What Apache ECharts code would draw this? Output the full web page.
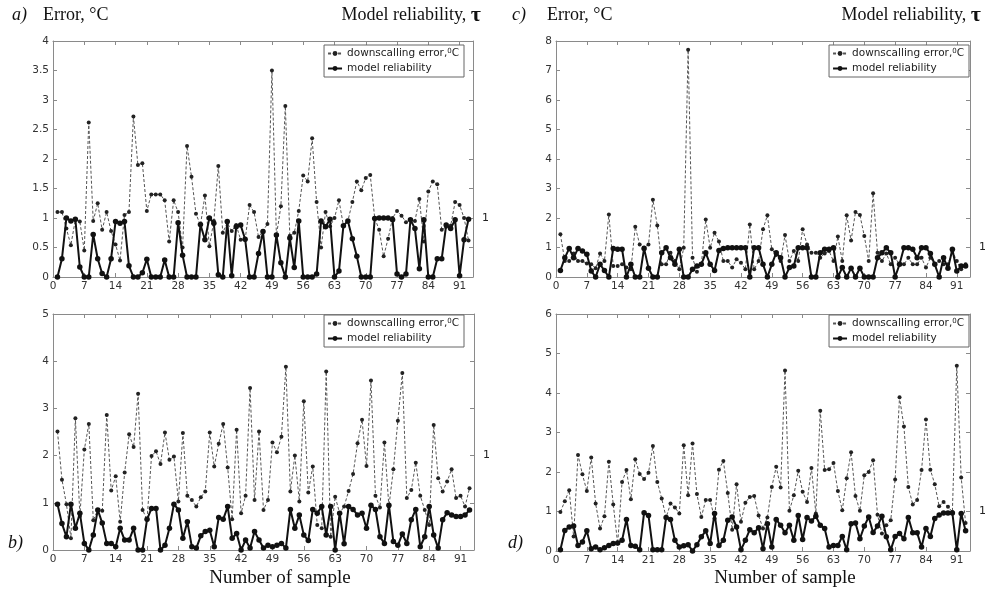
<!DOCTYPE html>
<html>
<head>
<meta charset="utf-8">
<script src="https://cdn.jsdelivr.net/npm/echarts@6/dist/echarts.min.js"></script>
<style>html,body{margin:0;padding:0;background:#fff;}#chart{width:989px;height:594px;}</style>
</head>
<body>
<div id="chart"></div>
<script>
// ---- data ----
const samples = Array.from({length: 93}, (_, i) => i + 1);   // sample numbers
const xTicks = [0, 7, 14, 21, 28, 35, 42, 49, 56, 63, 70, 77, 84, 91];

const yTicksA = [0, 0.5, 1, 1.5, 2, 2.5, 3, 3.5, 4];
const yTicksB = [0, 1, 2, 3, 4, 5];
const yTicksC = [0, 1, 2, 3, 4, 5, 6, 7, 8];
const yTicksD = [0, 1, 2, 3, 4, 5, 6];

const errA = [1.1,1.1,0.82,0.54,0.97,0.94,0.45,2.62,0.95,1.25,
  0.8,1.1,0.78,0.55,0.28,1.05,1.1,2.72,1.9,1.93,
  1.12,1.4,1.4,1.4,1.3,0.6,1.3,1.1,0.5,2.22,
  1.7,1.07,0.88,1.38,0.52,0.95,1.88,0.75,0.92,0.78,
  0.88,0.63,0.63,1.22,1.1,0.68,0.78,
  0.9,3.5,0.7,1.2,2.9,0.7,0.75,1.12,1.72,1.62,
  2.35,1.27,0.5,1.1,0.86,1.0,1.3,0.87,0.95,1.27,
  1.62,1.47,1.68,1.73,1.0,0.8,0.35,0.65,1.0,1.12,
  1.04,0.93,0.97,0.95,1.32,0.6,1.45,1.62,1.57,0.8,
  0.85,0.87,1.27,1.22,1.0,0.62];
const relA = [0,0.31,1.0,0.95,0.98,0.17,0,0,0.72,0.31,
  0.06,0,0.31,0.94,0.91,0.94,0.19,0,0,0.07,
  0.3,0,0,0,0.29,0,0,0.92,0.37,0,
  0,0,0.89,0.63,1.0,0.91,0.04,0,0.94,0.02,
  0.85,0.88,0.64,0,0,0.4,0.77,
  0,0,0.71,0.24,0,0.66,0.16,0.95,0,0,
  0,0.05,0.95,0.85,0.98,0,0.1,0.87,0.95,0.65,
  0.35,0,0,0,0.99,1.0,1.0,1.0,0.97,0.05,
  0,0.05,0.97,0.82,0.14,0.97,0,0,0.31,0.31,
  0.88,0.82,0.97,0.02,0.63,0.98];

const errB = [2.51,1.49,0.97,0.25,2.79,0.72,2.13,2.67,0.63,0.85,
  0.83,2.86,1.26,1.56,0.6,1.64,2.45,2.18,3.31,0.85,
  0.64,1.99,2.09,1.82,2.49,1.91,1.98,1.03,2.48,1.15,
  1.06,0.92,1.12,1.24,2.49,1.77,2.25,2.67,1.75,0.65,
  2.55,0.78,1.15,3.43,1.06,2.51,0.85,
  1.06,2.28,2.07,2.4,3.88,1.24,2.0,1.03,3.15,1.22,
  1.77,0.53,0.46,3.78,0.28,1.13,0.78,0.92,1.25,1.61,
  2.26,2.76,1.78,3.59,1.15,0.9,2.28,0.92,1.71,2.74,
  3.75,1.1,1.27,1.85,1.15,0.85,0.53,2.65,1.52,1.24,
  1.45,1.71,1.1,1.15,0.92,1.31];
const relB = [0.97,0.56,0.28,0.97,0.46,0.78,0.14,0,0.32,0.85,
  0.57,0.14,0.14,0.07,0.46,0.21,0.21,0.46,0,0,
  0.65,0.88,0.88,0,0.1,0.46,0.97,0.85,0.25,0.6,
  0.07,0.04,0.3,0.39,0.42,0.07,0.69,0.65,0.92,0.25,
  0.35,0,0.21,0.04,0.39,0.21,0.04,
  0.1,0.07,0.1,0.14,0.04,0.86,0.46,0.74,0.32,0.2,
  0.86,0.78,0.92,0.32,0.92,0,0.78,0.13,0.92,0.86,
  0.74,0.78,0.46,0.95,0.86,0.28,0.14,0.95,0.18,0.1,
  0.34,0.14,0.64,0.86,0.07,0.28,0.92,0.32,0.04,0.64,
  0.79,0.74,0.71,0.71,0.74,0.85];

const errC = [1.45,0.54,0.54,0.8,0.54,0.54,0.46,0.43,0.3,0.8,
  0.54,2.12,0.37,0.37,0.43,0.32,0.26,1.7,1.1,1.0,
  1.1,2.62,1.75,0.43,0.43,0.82,0.54,0.26,0.99,7.7,
  0.65,0.18,0.43,1.95,0.99,1.5,1.2,0.54,0.54,0.32,
  0.6,0.48,0.26,1.78,0.26,0.54,1.62,2.09,0.94,0.75,
  0.54,1.42,0.54,0.88,0.54,1.62,1.1,0.82,0.82,0.65,
  0.8,0.88,0.54,1.37,0.54,2.09,1.24,2.2,2.1,1.39,
  0.54,2.84,0.82,0.54,0.8,0.43,0.65,0.43,0.43,0.65,
  0.43,0.43,0.65,0.32,0.65,0.43,0.54,0.43,0.43,0.88,
  0.54,0.26,0.43];
const relC = [0.22,0.65,0.97,0.65,0.97,0.88,0.77,0.2,0,0.43,
  0.22,0,0.97,0.94,0.94,0,0.43,0,0,0.97,
  0.3,0,0,0.82,0.99,0.65,0.43,0.94,0,0,
  0.26,0.37,0.43,0.82,0.43,0.22,0.9,0.97,0.99,0.99,
  0.99,0.99,0.99,0,0.99,0.99,0.43,0,0.43,0.82,
  0.65,0,0.32,0.37,0.99,0.99,0.99,0,0,0.82,
  0.94,0.94,0.99,0,0.32,0,0.3,0,0.3,0,
  0,0,0.65,0.82,0.99,0.82,0,0.43,0.99,0.99,
  0.94,0.65,0.99,0.99,0.8,0.43,0,0.65,0.3,0.94,
  0.2,0.37,0.37];

const errD = [0.99,1.26,1.54,0.37,2.43,1.94,1.52,2.37,1.2,0.57,
  0.88,2.26,1.18,0.19,1.75,2.05,1.31,2.32,1.95,1.82,
  1.98,2.66,1.75,1.33,0.85,1.2,1.1,0.95,2.68,1.41,
  2.72,1.44,0.86,1.29,1.29,0.82,2.06,2.28,1.47,0.54,
  1.69,0.74,1.22,1.37,1.39,0.9,0.57,0.85,1.62,2.13,
  1.61,4.57,1.02,1.41,2.03,1.5,1.24,2.1,0.95,3.55,
  2.05,2.07,2.23,1.52,1.03,1.84,2.5,1.39,1.02,1.92,
  2.0,2.3,0.92,0.44,0.65,0.78,1.81,3.89,3.15,1.62,
  1.18,1.29,2.05,3.33,2.06,1.69,1.13,1.24,1.12,0.99,
  4.69,1.86,0.71];
const relD = [0.03,0.52,0.61,0.63,0.14,0.23,0.51,0.06,0.1,0.03,
  0.08,0.14,0.19,0.2,0.27,0.8,0.14,0.12,0.03,0.97,
  0.9,0.03,0.03,0.03,0.85,0.8,0.27,0.1,0.13,0.16,
  0,0.16,0.36,0.51,0.19,0.95,0.14,0.27,0.78,0.86,
  0.61,0.03,0.27,0.54,0.46,0.59,0.06,0.69,0.1,0.8,
  0.65,0.46,0.65,0.27,0.9,0.29,0.85,0.76,0.88,0.65,
  0.57,0.1,0.14,0.14,0.37,0.03,0.69,0.71,0.31,0.63,
  0.86,0.47,0.63,0.88,0.36,0.03,0.37,0.44,0.31,0.85,
  0.46,0.46,0.1,0.57,0.37,0.82,0.91,0.96,0.96,0.96,
  0.03,0.95,0.51];

const errName = 'downscalling error';
const relName = 'model reliability';

// ---- layout ----
const X_MAX = 94;
const panels = [
  {err: errA, rel: relA, yTicks: yTicksA, rightOne: 1, grid: {left: 53, top: 41, width: 420, height: 236}, legend: {right: 525, top: 45}},
  {err: errB, rel: relB, yTicks: yTicksB, rightOne: 2, grid: {left: 53, top: 314, width: 421, height: 236}, legend: {right: 525, top: 315}},
  {err: errC, rel: relC, yTicks: yTicksC, rightOne: 1, grid: {left: 556, top: 41, width: 420, height: 236}, legend: {right: 20, top: 45}},
  {err: errD, rel: relD, yTicks: yTicksD, rightOne: 1, grid: {left: 556, top: 314, width: 420, height: 237}, legend: {right: 20, top: 315}}
];

const frame = '#8a8a8a';
const tickFont = 'DejaVu Sans';
const serif = '"Liberation Serif", "Times New Roman", serif';

const option = {
  animation: false,
  backgroundColor: '#ffffff',
  grid: [], xAxis: [], yAxis: [], series: [], legend: [], graphic: []
};

panels.forEach((p, i) => {
  option.grid.push(Object.assign({show: false}, p.grid));
  const axisLine = {show: true, onZero: false, lineStyle: {color: frame, width: 1}};
  const axisTick = {show: true, inside: true, length: 4, lineStyle: {color: frame, width: 1}};
  const yMax = p.yTicks[p.yTicks.length - 1];
  const yStep = p.yTicks[1] - p.yTicks[0];
  option.xAxis.push({
    type: 'value', gridIndex: i, position: 'bottom', min: xTicks[0], max: X_MAX, interval: xTicks[1] - xTicks[0],
    axisLine, axisTick, splitLine: {show: false},
    axisLabel: {show: true, margin: 4, fontFamily: tickFont, fontSize: 10.5, color: '#333', showMaxLabel: false,
      formatter: v => xTicks.includes(v) ? String(v) : ''}
  });
  option.xAxis.push({
    type: 'value', gridIndex: i, position: 'top', min: xTicks[0], max: X_MAX, interval: xTicks[1] - xTicks[0],
    axisLine, axisTick, splitLine: {show: false}, axisLabel: {show: false}
  });
  option.yAxis.push({
    type: 'value', gridIndex: i, position: 'left', min: p.yTicks[0], max: yMax, interval: yStep,
    axisLine, axisTick, splitLine: {show: false},
    axisLabel: {show: true, margin: 4, fontFamily: tickFont, fontSize: 10.5, color: '#333'}
  });
  option.yAxis.push({
    type: 'value', gridIndex: i, position: 'right', min: p.yTicks[0], max: yMax, interval: yStep,
    axisLine, axisTick, splitLine: {show: false},
    axisLabel: {show: true, margin: 9, fontFamily: tickFont, fontSize: 11, color: '#222',
      formatter: v => (Math.abs(v - p.rightOne) < 1e-9 ? '1' : '')}
  });
  option.series.push({
    name: errName, type: 'line', xAxisIndex: 2 * i, yAxisIndex: 2 * i,
    data: samples.map((s, j) => [s, p.err[j]]),
    symbol: 'circle', symbolSize: 4, showSymbol: true,
    lineStyle: {color: '#555', width: 1, type: [3, 2]},
    itemStyle: {color: '#222'}, z: 2
  });
  option.series.push({
    name: relName, type: 'line', xAxisIndex: 2 * i, yAxisIndex: 2 * i,
    data: samples.map((s, j) => [s, p.rel[j]]),
    symbol: 'circle', symbolSize: 5.5, showSymbol: true,
    lineStyle: {color: '#111', width: 2},
    itemStyle: {color: '#111'}, z: 3
  });
  option.legend.push({
    show: true, orient: 'vertical', right: p.legend.right, top: p.legend.top,
    data: [errName, relName], selectedMode: false,
    itemWidth: 14, itemHeight: 6, itemGap: 4,
    padding: [3, 5, 3, 3], borderColor: '#666', borderWidth: 1, borderRadius: 0, backgroundColor: '#ffffff',
    textStyle: {fontFamily: tickFont, fontSize: 10.5, color: '#222',
      rich: {s: {fontFamily: tickFont, fontSize: 7, color: '#222', verticalAlign: 'top', lineHeight: 8}}},
    formatter: n => (n === errName ? 'downscalling error,{s|0}C' : n)
  });
});

function txt(x, y, text, font, align, rich) {
  const style = {text, x: 0, y: 0, font, fill: '#111', align: align || 'left', verticalAlign: 'middle'};
  if (rich) style.rich = rich;
  return {type: 'text', x, y, style, z: 10};
}
const tauRich = {t: {fontFamily: serif, fontSize: 22, fontWeight: 'bold', fill: '#111'}};
option.graphic = [
  txt(12, 15, 'a)', 'italic 18px ' + serif),
  txt(43, 15, 'Error, °C', '18px ' + serif),
  txt(481, 15, 'Model reliability, {t|τ}', '18px ' + serif, 'right', tauRich),
  txt(512, 15, 'c)', 'italic 18px ' + serif),
  txt(547, 15, 'Error, °C', '18px ' + serif),
  txt(981, 15, 'Model reliability, {t|τ}', '18px ' + serif, 'right', tauRich),
  txt(8, 543, 'b)', 'italic 18px ' + serif),
  txt(508, 543, 'd)', 'italic 18px ' + serif),
  txt(280, 578, 'Number of sample', '19px ' + serif, 'center'),
  txt(785, 578, 'Number of sample', '19px ' + serif, 'center')
];

const chart = echarts.init(document.getElementById('chart'), null, {renderer: 'canvas'});
chart.setOption(option);
</script>
</body>
</html>
